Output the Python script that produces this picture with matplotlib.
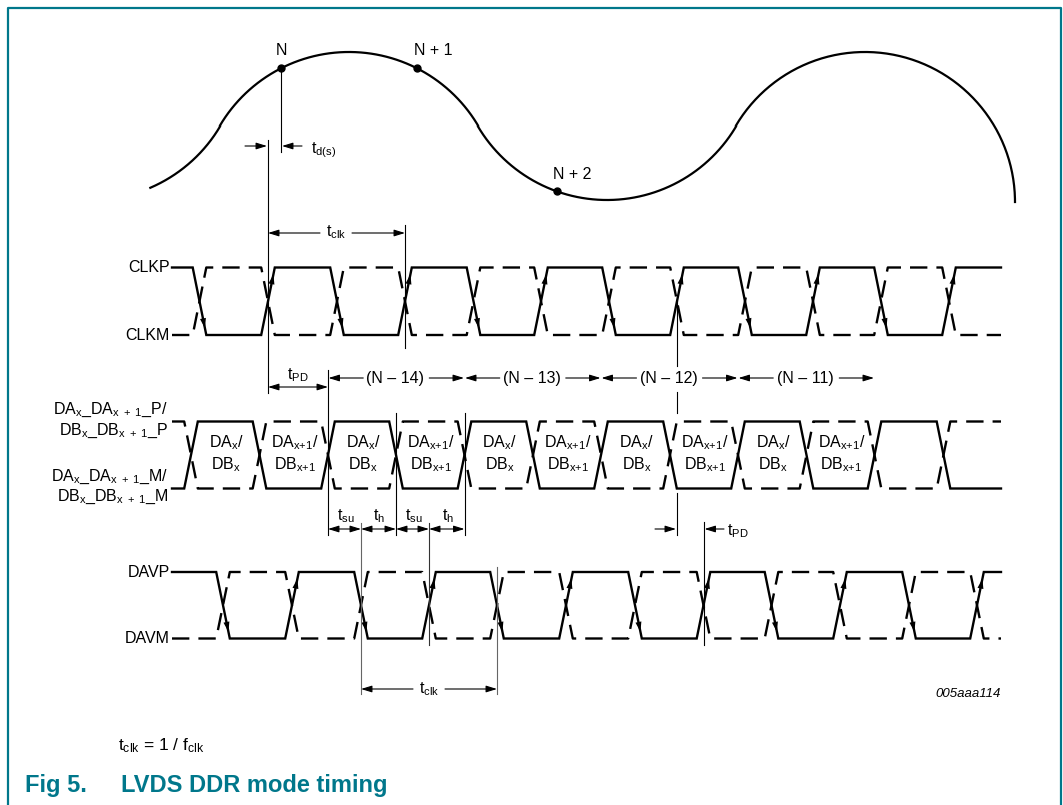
"""LVDS DDR mode timing diagram (Fig 5), redrawn in pixel coordinates."""
import numpy as np
import matplotlib; matplotlib.use("Agg")
import matplotlib.pyplot as plt

plt.rcParams['font.family'] = ['Liberation Sans', 'DejaVu Sans']
plt.rcParams['mathtext.fontset'] = 'custom'
plt.rcParams['mathtext.rm'] = 'Liberation Sans'
plt.rcParams['mathtext.it'] = 'Liberation Sans:italic'
plt.rcParams['mathtext.bf'] = 'Liberation Sans:bold'
plt.rcParams['lines.scale_dashes'] = False

TEAL = "#00778b"

# ---- data (x positions of signal crossings, px) ----
CLK_EDGES = [199.5, 268, 337, 405, 473.5, 541, 609, 677, 745, 813, 881, 949]
DATA_EDGES = [191, 259.5, 328, 396, 464.5, 533, 601, 670, 738, 806.5, 874.5, 943.5]
DAV_EDGES = [223, 292, 361, 429, 497, 566, 635, 703.5, 771.5, 840, 909, 977]
DATA_CELLS = ["x", "x{+}1", "x", "x{+}1", "x", "x{+}1", "x", "x{+}1", "x", "x{+}1", None]
SEGMENTS = ["(N – 14)", "(N – 13)", "(N – 12)", "(N – 11)"]
# sample clock drawn as tangent circle arcs
ARC_CX = [91, 349, 607, 865]
ARC_CY = [50, 202, 50, 202]
ARC_R = 150
SAMPLES = [("N", 281), ("N + 1", 417), ("N + 2", 557)]

fig = plt.figure(figsize=(10.63, 8.05), dpi=100)
ax = fig.add_axes([0, 0, 1, 1])
ax.set_xlim(0, 1063); ax.set_ylim(805, 0); ax.axis("off")

# frame
ax.plot([8, 8, 1061, 1061], [805, 8, 8, 805], color=TEAL, lw=1.6, solid_capstyle="butt")

FS = 11.5
def txt(x, y, s, ha="center", fs=FS, **kw):
    ax.text(x, y, s, ha=ha, va="center", fontsize=fs, **kw)

def arrow(x0, x1, y, style="-|>"):
    ax.annotate("", xy=(x1, y), xytext=(x0, y),
                arrowprops=dict(arrowstyle=f"{style},head_length=0.65,head_width=0.2",
                                lw=0.8, color="k", shrinkA=0, shrinkB=0, mutation_scale=10))

def vline(x, y0, y1, color="k"):
    ax.plot([x, x], [y0, y1], color=color, lw=0.8)

# ---- sampled analog input ----
mx = [(ARC_CX[i] + ARC_CX[i+1]) / 2 for i in range(len(ARC_CX) - 1)]
my = [(ARC_CY[i] + ARC_CY[i+1]) / 2 for i in range(len(ARC_CY) - 1)]
starts = [(150, 187)] + list(zip(mx, my))
ends = list(zip(mx, my)) + [(ARC_CX[-1] + ARC_R, ARC_CY[-1])]
xs, ys = [], []
for cx, cy, (sx, sy), (ex, ey) in zip(ARC_CX, ARC_CY, starts, ends):
    a0 = np.arctan2(sy - cy, sx - cx); a1 = np.arctan2(ey - cy, ex - cx)
    t = np.linspace(a0, a1, 120)
    xs += list(cx + ARC_R * np.cos(t)); ys += list(cy + ARC_R * np.sin(t))
ax.plot(xs, ys, color="k", lw=1.6)

def on_curve(x):
    i = int(np.argmin([abs(x - c) for c in ARC_CX]))
    s = 1 if ARC_CY[i] < 100 else -1
    return ARC_CY[i] + s * np.sqrt(ARC_R**2 - (x - ARC_CX[i])**2)

for lab, x in SAMPLES:
    ax.plot(x, on_curve(x), "o", color="k", ms=5)
for lab, x, dx, dy in [("N", 281, 0, -18), ("N + 1", 417, 16, -18), ("N + 2", 557, 15, -17)]:
    txt(x + dx, on_curve(x) + dy, lab)

# t_d(s)
nx = SAMPLES[0][1]
vline(nx, on_curve(nx), 152)
vline(CLK_EDGES[1], 140, 393)
arrow(245, CLK_EDGES[1] - 1, 146)
arrow(302, nx + 1, 146)
txt(311, 150, r"t$_\mathrm{d(s)}$", ha="left")

# t_clk top
vline(CLK_EDGES[3], 225, 348)
yc = 233
arrow(320, CLK_EDGES[1], yc); arrow(352, CLK_EDGES[3], yc)
txt(336, yc - 1, r"t$_\mathrm{clk}$")

# ---- differential signals ----
X0, X1, W = 172, 1001, 6.8
def head(tail, tip, L=10, hw=3.0):
    d = np.array(tip) - np.array(tail); d = d / np.hypot(*d)
    n = np.array([-d[1], d[0]])
    b = np.array(tip) - L * d
    tri = np.array([tip, b + hw * n, b - hw * n])
    ax.fill(tri[:, 0], tri[:, 1], color="k", lw=0)

def signal(edges, top, bot, start_high, arrows=True):
    lv = [top, bot]
    for solid, high in [(True, start_high), (False, not start_high)]:
        px, py = [X0], [lv[0] if high else lv[1]]
        cur = py[0]
        for c in edges:
            nxt = bot if cur == top else top
            px += [c - W, c + W]; py += [cur, nxt]
            cur = nxt
        px.append(X1); py.append(cur)
        if solid:
            ax.plot(px, py, color="k", lw=1.7, solid_joinstyle="miter")
            if arrows:
                cur = py[0]
                for c in edges:
                    nxt = bot if cur == top else top
                    f = 0.9
                    tip = (c - W + 2 * W * f, cur + (nxt - cur) * f)
                    head((c - W, cur), tip)
                    cur = nxt
        else:
            ax.plot(px, py, color="k", lw=1.7, dashes=(12.5, 6.5))

CLK_T, CLK_B = 267.5, 335
DAT_T, DAT_B = 421.5, 488.5
DAV_T, DAV_B = 572, 638.5
signal(CLK_EDGES, CLK_T, CLK_B, True)
signal(DATA_EDGES, DAT_T, DAT_B, False, arrows=False)
signal(DAV_EDGES, DAV_T, DAV_B, True)

txt(170, CLK_T, "CLKP", ha="right"); txt(170, CLK_B, "CLKM", ha="right")
txt(170, DAV_T, "DAVP", ha="right"); txt(170, DAV_B, "DAVM", ha="right")
txt(168, 410, r"DA$_\mathrm{x}$_DA$_\mathrm{x\ +\ 1}$_P/", ha="right")
txt(168, 431, r"DB$_\mathrm{x}$_DB$_\mathrm{x\ +\ 1}$_P", ha="right")
txt(168, 477, r"DA$_\mathrm{x}$_DA$_\mathrm{x\ +\ 1}$_M/", ha="right")
txt(168, 497, r"DB$_\mathrm{x}$_DB$_\mathrm{x\ +\ 1}$_M", ha="right")

for a, b, sub in zip(DATA_EDGES[:-1], DATA_EDGES[1:], DATA_CELLS):
    if sub is None:
        continue
    m = (a + b) / 2 + 1
    txt(m, 443, rf"DA$_\mathrm{{{sub}}}$/")
    txt(m, 465, rf"DB$_\mathrm{{{sub}}}$")

# t_PD (clock -> data)
yp = 387
ax.annotate("", xy=(DATA_EDGES[2], yp), xytext=(CLK_EDGES[1], yp),
            arrowprops=dict(arrowstyle="<|-|>,head_length=0.65,head_width=0.2", lw=0.8,
                            color="k", shrinkA=0, shrinkB=0, mutation_scale=10))
txt((CLK_EDGES[1] + DATA_EDGES[2]) / 2, 375, r"t$_\mathrm{PD}$")

# (N - k) sample segments
ys_ = 378
bounds = DATA_EDGES[2::2]
for lab, a, b in zip(SEGMENTS, bounds[:-1], bounds[1:]):
    m = (a + b) / 2
    arrow(m - 33, a + 0.5, ys_); arrow(m + 33, b - 0.5, ys_)
    txt(m - 1, ys_, lab, bbox=dict(fc="white", ec="none", pad=0.6))

vline(DATA_EDGES[2], 370, 535)
vline(DATA_EDGES[3], 413, 535)
vline(DATA_EDGES[4], 413, 535)
vline(CLK_EDGES[7], 301, 366)
vline(CLK_EDGES[7], 392, 413)
vline(CLK_EDGES[7], 493, 535)

# t_su / t_h
yt = 529
marks = [DATA_EDGES[2], DAV_EDGES[2], DATA_EDGES[3], DAV_EDGES[3], DATA_EDGES[4]]
for a, b, lab in zip(marks[:-1], marks[1:], ["su", "h", "su", "h"]):
    ax.annotate("", xy=(b, yt), xytext=(a, yt),
                arrowprops=dict(arrowstyle="<|-|>,head_length=0.65,head_width=0.2", lw=0.8,
                                color="k", shrinkA=0, shrinkB=0, mutation_scale=10))
    txt((a + b) / 2 + 1, 516, rf"t$_\mathrm{{{lab}}}$")

vline(DAV_EDGES[2], 523, 694, color="#666666")
vline(DAV_EDGES[3], 523, 645, color="#333333")
vline(DAV_EDGES[4], 567, 694, color="#666666")

# t_PD (clock -> DAV)
vline(DAV_EDGES[7], 522, 645)
arrow(655, CLK_EDGES[7] - 1, yt)
arrow(724, DAV_EDGES[7] + 1, yt)
txt(727, 531, r"t$_\mathrm{PD}$", ha="left")

# t_clk bottom
yb = 689
m = (DAV_EDGES[2] + DAV_EDGES[4]) / 2
arrow(m - 16, DAV_EDGES[2], yb); arrow(m + 16, DAV_EDGES[4], yb)
txt(m, yb, r"t$_\mathrm{clk}$")

txt(1001, 694, "005aaa114", ha="right", fs=9.5, style="italic")
txt(118, 746, r"t$_\mathrm{clk}$ = 1 / f$_\mathrm{clk}$", ha="left", fs=12.5)

ax.text(25, 785, "Fig 5.", ha="left", va="center", fontsize=17, fontweight="bold", color=TEAL)
ax.text(121, 785, "LVDS DDR mode timing", ha="left", va="center", fontsize=17,
        fontweight="bold", color=TEAL)

fig.savefig("out.png", dpi=100, facecolor="white")
